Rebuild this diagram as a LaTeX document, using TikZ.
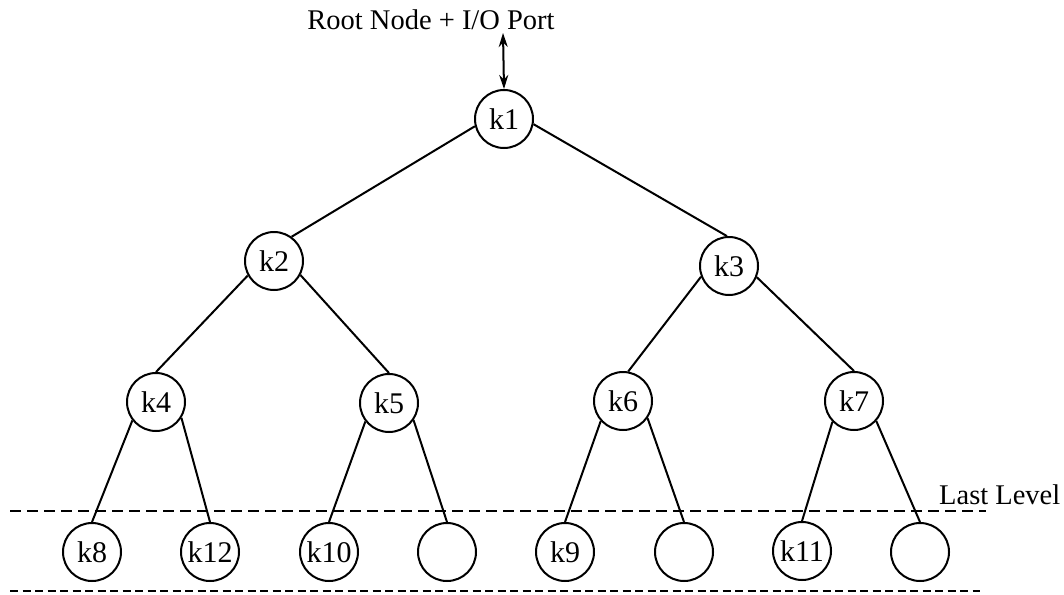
\documentclass[tikz,border=0pt]{standalone}
\usepackage{fontspec}
\setmainfont{Liberation Serif}
\usetikzlibrary{arrows.meta}
\tikzset{
  tnode/.style={circle, draw, line width=2pt, minimum size=58pt, inner sep=0pt,
    font=\fontsize{30}{34}\selectfont},
  edge/.style={line width=2pt},
  lbl/.style={inner sep=0pt, font=\fontsize{28.5}{32}\selectfont},
  levelline/.style={line width=2pt, dash pattern=on 11pt off 6pt},
  baseline/.style={line width=2pt, dash pattern=on 8pt off 4.5pt},
  io/.style={line width=2pt, {Stealth[length=14pt,width=9pt]}-{Stealth[length=14pt,width=9pt]}}
}
\begin{document}
\begin{tikzpicture}[x=1pt, y=-1pt]
\useasboundingbox (0,0) rectangle (1064,594);
% text labels
\node[lbl, anchor=base] (root) at (431,30) {Root Node + I/O Port};
\node[lbl, anchor=base west] (last) at (939,504) {Last Level};
% tree nodes
\node[tnode] (k1) at (504,119) {k1};
\node[tnode] (k2) at (274,261) {k2};
\node[tnode] (k3) at (729,266) {k3};
\node[tnode] (k4) at (156,402) {k4};
\node[tnode] (k5) at (389,403) {k5};
\node[tnode] (k6) at (623,401) {k6};
\node[tnode] (k7) at (854,401) {k7};
\node[tnode] (k8) at (92,552) {k8};
\node[tnode] (k12) at (210,552) {k12};
\node[tnode] (k10) at (329,552) {k10};
\node[tnode] (e1) at (447,552) {};
\node[tnode] (k9) at (565,552) {k9};
\node[tnode] (e2) at (684,552) {};
\node[tnode] (k11) at (802,551) {k11};
\node[tnode] (e3) at (920,552) {};
% I/O arrow
\coordinate (iotop) at (503,33);
\draw[io] (iotop) -- (k1.north);
% edges
\draw[edge] (k1.194) -- (k2.54);
\draw[edge] (k1.350) -- (k3.94);
\draw[edge] (k2.209) -- (k4.north);
\draw[edge] (k2.332) -- (k5.north);
\draw[edge] (k3.201) -- (k6.80);
\draw[edge] (k3.338) -- (k7.north);
\draw[edge] (k4.218) -- (k8.north);
\draw[edge] (k4.328) -- (k12.north);
\draw[edge] (k5.218) -- (k10.north);
\draw[edge] (k5.325) -- (e1.north);
\draw[edge] (k6.222) -- (k9.north);
\draw[edge] (k6.325) -- (e2.north);
\draw[edge] (k7.224) -- (k11.north);
\draw[edge] (k7.318) -- (e3.north);
% level lines
\coordinate (ll0) at (10,511);
\coordinate (ll1) at (986,511);
\draw[levelline] (ll0) -- (ll1);
\coordinate (bl0) at (10,591);
\coordinate (bl1) at (980,591);
\draw[baseline] (bl0) -- (bl1);
\end{tikzpicture}
\end{document}
